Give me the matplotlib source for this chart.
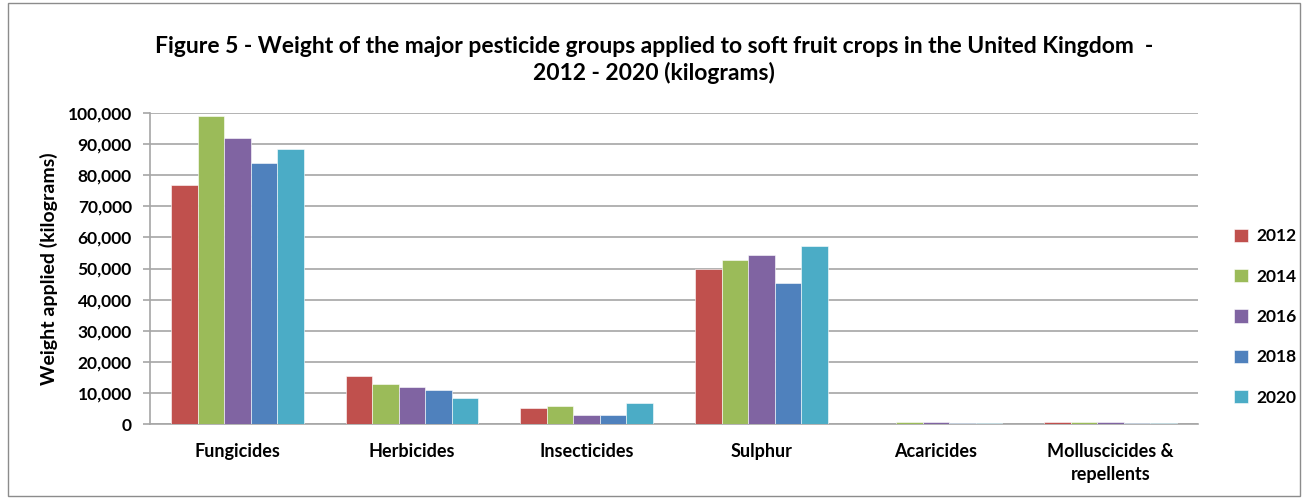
import matplotlib
matplotlib.use("Agg")
import matplotlib.pyplot as plt
from matplotlib.ticker import FuncFormatter, MultipleLocator
from matplotlib.patches import Rectangle
import numpy as np

plt.rcParams['font.family'] = ['Lato', 'DejaVu Sans']
plt.rcParams['font.weight'] = 'bold'

categories = ["Fungicides", "Herbicides", "Insecticides", "Sulphur",
              "Acaricides", "Molluscicides &\nrepellents"]
years = ["2012", "2014", "2016", "2018", "2020"]
values_2012 = [77000, 15300, 5300, 49700, 100, 800]
values_2014 = [99100, 12900, 5900, 52600, 700, 700]
values_2016 = [92000, 12000, 3000, 54400, 700, 700]
values_2018 = [84000, 11000, 3000, 45400, 200, 200]
values_2020 = [88300, 8200, 6800, 57300, 200, 200]
series = [values_2012, values_2014, values_2016, values_2018, values_2020]
colors = ["#C0504D", "#9BBB59", "#8064A2", "#4F81BD", "#4BACC6"]

fig = plt.figure(figsize=(13.08, 4.98), dpi=100)
fig.patches.append(Rectangle((0.006, 0.004), 0.988, 0.99, transform=fig.transFigure,
                             fill=False, edgecolor="#8C8C8C", linewidth=1.0))

ax = fig.add_axes([150 / 1308, 74 / 498, (1198 - 150) / 1308, (424 - 113) / 498])

x = np.arange(len(categories))
width = 0.152
for i, (vals, col, yr) in enumerate(zip(series, colors, years)):
    ax.bar(x + (i - 2) * width, vals, width, color=col, label=yr,
           edgecolor="white", linewidth=0.4, zorder=3)

ax.set_xlim(-0.5, len(categories) - 0.5)
ax.set_ylim(0, 100000)
ax.yaxis.set_major_locator(MultipleLocator(10000))
ax.yaxis.set_major_formatter(FuncFormatter(lambda v, p: f"{int(v):,}"))
ax.grid(axis="y", color="#A6A6A6", linewidth=1.2, zorder=0)
ax.set_axisbelow(True)

for side in ("top", "right"):
    ax.spines[side].set_visible(False)
ax.spines["left"].set_color("#A6A6A6")
ax.spines["bottom"].set_color("#A6A6A6")
ax.spines["left"].set_linewidth(1.2)
ax.spines["bottom"].set_linewidth(1.2)

ax.tick_params(axis="y", length=5, color="#A6A6A6", labelsize=12.5, pad=8, width=1.2)
ax.tick_params(axis="x", length=0, labelsize=13, pad=14)
ax.set_xticks(x)
ax.set_xticklabels(categories, fontweight="bold", linespacing=1.4)
for lbl in ax.get_yticklabels():
    lbl.set_fontweight("bold")

ax.set_ylabel("Weight applied (kilograms)", fontsize=14, fontweight="bold", labelpad=7)

fig.text(0.5, 1 - 60 / 498,
         "Figure 5 - Weight of the major pesticide groups applied to soft fruit crops in the United Kingdom  -\n2012 - 2020 (kilograms)",
         ha="center", va="center", fontsize=16.5, fontweight="bold", linespacing=1.3)

leg = fig.legend(loc="center left", bbox_to_anchor=(1218 / 1308, 1 - 317 / 498),
                 frameon=False, fontsize=12.5, handlelength=0.8, handleheight=0.8,
                 labelspacing=1.4, handletextpad=0.5)
for t in leg.get_texts():
    t.set_fontweight("bold")

fig.savefig("out.png", dpi=100)
